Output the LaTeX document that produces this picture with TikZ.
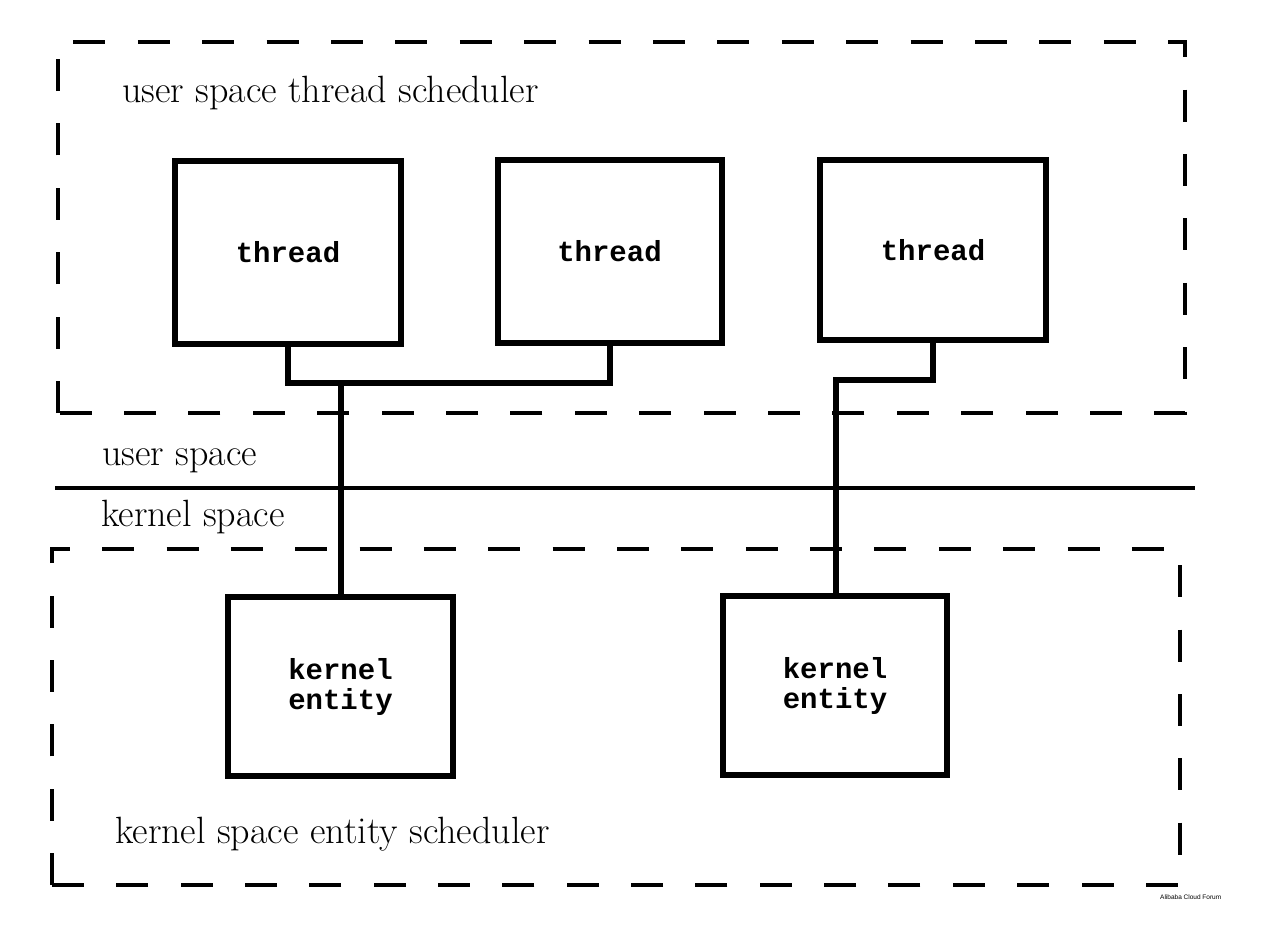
\documentclass[tikz,border=0pt]{standalone}
\usepackage{fontspec}
\setmonofont{Liberation Mono}
\newfontfamily\wmfont{Liberation Sans}
\begin{document}
\begin{tikzpicture}[x=1pt,y=-1pt] % user / kernel threads
\tikzstyle{mybox} = [draw, line width=6pt, align=center, inner sep=0pt, font=\ttfamily\bfseries\fontsize{29}{30}\selectfont] % thread and entity boxes
\tikzstyle{mylink} = [line width=6pt] % links between boxes
\tikzstyle{myframe} = [line width=4pt, dash pattern=on 32pt off 32.4pt] % scheduler frames
\tikzstyle{mylabel} = [anchor=base west, inner sep=0pt, font=\fontsize{38}{44}\selectfont]
\useasboundingbox (0,0) rectangle (1280,946);

% user space
\draw[myframe] (58,413) -- (58,42) -- (1185,42) -- (1185,413) -- cycle;
\node[mylabel] (usched) at (122,102) {user space thread scheduler};
\node[mybox, minimum width=226pt, minimum height=183pt] (t1) at (288,252.5) {thread};
\node[mybox, minimum width=224pt, minimum height=183pt] (t2) at (609.5,251.5) {thread};
\node[mybox, minimum width=226pt, minimum height=180pt] (t3) at (933,250) {thread};

% border
\node[mylabel] (uspace) at (102,465) {user space};
\draw[line width=4pt] (55,488) -- (1195,488);
\node[mylabel] (kspace) at (101,526) {kernel space};

% kernel space
\draw[myframe, dash pattern=on 32pt off 32.36pt] (52,885) -- (52,549) -- (1180,549) -- (1180,885) -- cycle;
\node[mylabel] (ksched) at (115,843) {kernel space entity scheduler};
\node[mybox, minimum width=225pt, minimum height=179pt] (k1) at (340.5,686.5) {kernel\\entity};
\node[mybox, minimum width=224pt, minimum height=179pt] (k2) at (835,685.5) {kernel\\entity};

% links
\coordinate (j1) at (341,383);
\coordinate (j2) at (836,380);
\draw[mylink] (t1.south) |- (j1) -| (t2.south);
\draw[mylink] (j1) -- (j1 |- k1.north);
\draw[mylink] (t3.south) |- (j2) -- (j2 |- k2.north);

\node[anchor=base west, inner sep=0pt, font=\wmfont\fontsize{6.5}{7}\selectfont] (wm) at (1160,899) {Alibaba Cloud Forum};
\end{tikzpicture}
\end{document}
